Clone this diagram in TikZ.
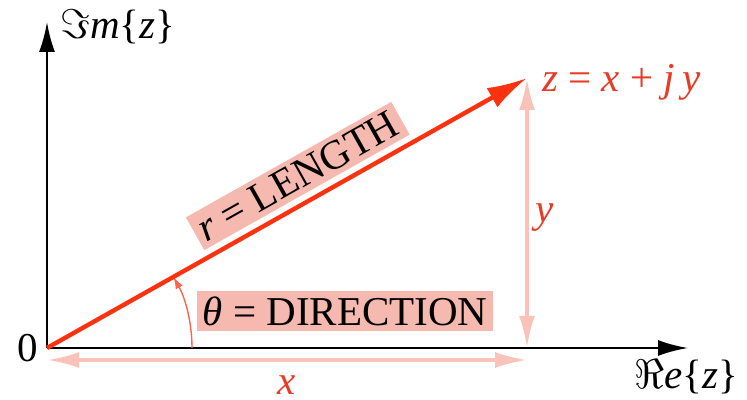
\documentclass[tikz,border=0pt]{standalone}
\usepackage{fontspec}
\setmainfont{Liberation Serif}
\usetikzlibrary{arrows.meta,positioning}
\definecolor{zred}{RGB}{250,50,15}
\definecolor{zpink}{RGB}{250,195,185}
\definecolor{zbox}{RGB}{245,185,175}
\definecolor{zlabel}{RGB}{232,58,38}
\newcommand{\var}[1]{\textit{#1}}

\begin{document}
\begin{tikzpicture}[x=0.5pt,y=0.5pt,font=\fontsize{20.5}{24}\selectfont,
    axis/.style={line width=1.2pt,-{Latex[length=15pt,width=8pt]}},
    guide/.style={zpink,line width=1.8pt,{Latex[length=16pt,width=8pt]}-{Latex[length=16pt,width=8pt]}},
    lblbox/.style={fill=zbox,inner xsep=3pt,inner ysep=2.5pt}]
  \useasboundingbox (-47,-52) rectangle (700,348);
  \coordinate (O) at (0,0);
  \coordinate (xend) at (641,0);
  \coordinate (yend) at (0,326);
  \coordinate (z) at (480,270);
  \coordinate (zfoot) at (480,0);
  \coordinate (xl) at (0,-12);
  \coordinate (xr) at (480,-12);
  % guides for x and y
  \draw[guide] (xl) -- (xr);
  \draw[guide] (zfoot) -- (z);
  % axes
  \draw[axis] (O) -- (xend);
  \draw[axis] (O) -- (yend);
  \node[right=6.5pt of yend,inner sep=0pt,yshift=-2.5pt] (imlab) {$\Im$\var{m}\{\var{z}\}};
  \node[left=4.5pt of O,inner sep=0pt] (zero) {0};
  \node (relab) at (639,-29) {$\Re$\var{e}\{\var{z}\}};
  % the vector and its angle
  \draw[zred!75,line width=0.7pt,-{Latex[length=6pt,width=4pt]}] (145,0) arc[start angle=0,end angle=29.36,radius=145];
  \draw[zred,line width=2.2pt,-{Latex[length=20pt,width=11pt]}] (O) -- (z)
    node[lblbox,text=black,pos=0.55,sloped,above=3pt] (rlab) {\var{r} = LENGTH};
  \node[lblbox] (thlab) at (298,37) {\var{θ} = DIRECTION};
  \node[right=7.5pt of z,inner sep=0pt,yshift=-2pt,text=zlabel] (zlab) {\var{z} = \var{x} + \var{j\,y}};
  \node[text=zlabel] (ylab) at (498,130) {\var{y}};
  \node[text=zlabel] (xlab) at (240,-37) {\var{x}};
\end{tikzpicture}
\end{document}
